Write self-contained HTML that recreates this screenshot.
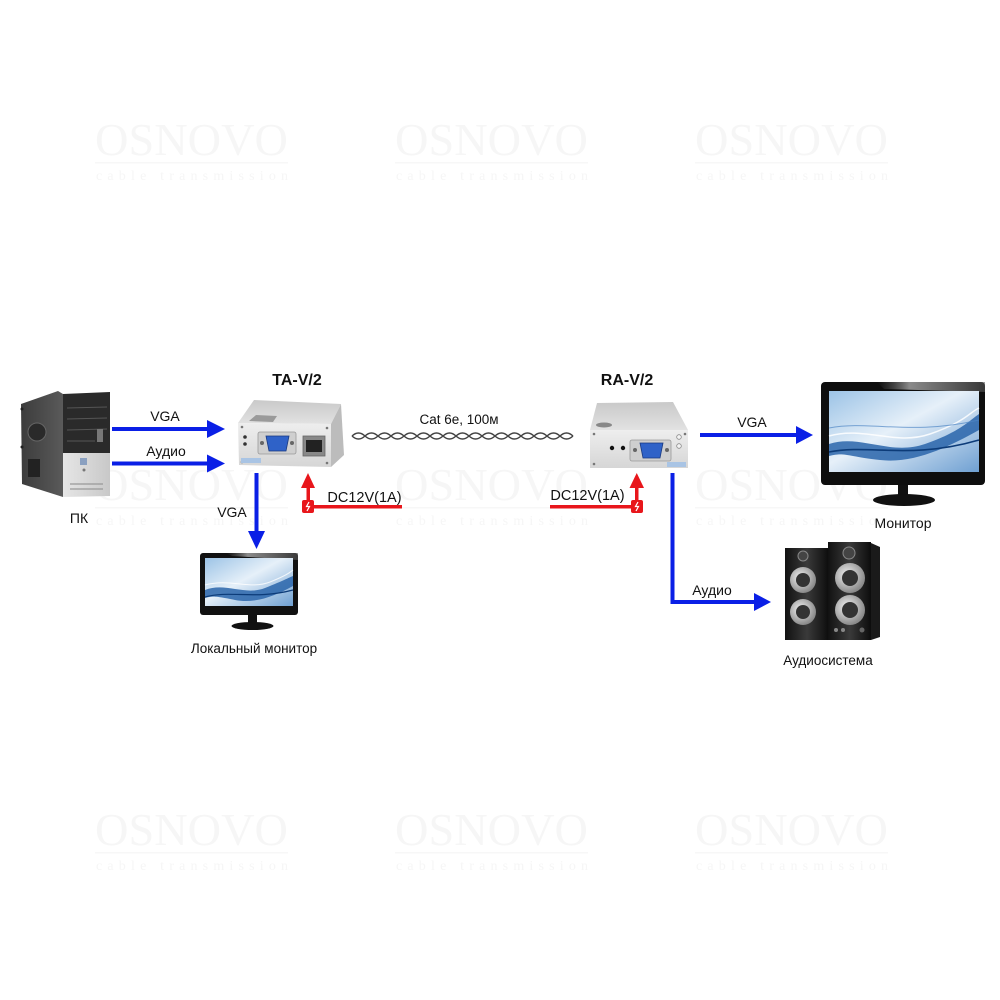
<!DOCTYPE html>
<html><head><meta charset="utf-8"><style>
html,body{margin:0;padding:0;background:#fff;}
svg{display:block;}
text{font-family:"Liberation Sans","DejaVu Sans",sans-serif;fill:#111;}
.wm{font-family:"Liberation Serif",serif;fill:#f6f6f6;}
</style></head><body>
<svg width="1000" height="1000" viewBox="0 0 1000 1000" xmlns="http://www.w3.org/2000/svg">
<defs>
<linearGradient id="scr" x1="0" y1="0" x2="1" y2="1">
<stop offset="0" stop-color="#9cc3e6"/><stop offset="0.45" stop-color="#e6f0f9"/><stop offset="1" stop-color="#6fa0d2"/>
</linearGradient>
<linearGradient id="topG" x1="0" y1="0" x2="0" y2="1">
<stop offset="0" stop-color="#c9c9c9"/><stop offset="1" stop-color="#e2e2e2"/>
</linearGradient>
<linearGradient id="frontG" x1="0" y1="0" x2="0" y2="1">
<stop offset="0" stop-color="#eeeeee"/><stop offset="1" stop-color="#d6d6d6"/>
</linearGradient>
<linearGradient id="spk" x1="0" y1="0" x2="1" y2="0">
<stop offset="0" stop-color="#111"/><stop offset="0.5" stop-color="#3a3a3a"/><stop offset="1" stop-color="#0c0c0c"/>
</linearGradient>
<radialGradient id="woof" cx="0.4" cy="0.4" r="0.6">
<stop offset="0" stop-color="#f2f2f2"/><stop offset="1" stop-color="#8a8a8a"/>
</radialGradient>
<linearGradient id="pcs" x1="0" y1="0" x2="1" y2="0">
<stop offset="0" stop-color="#3c3c3c"/><stop offset="1" stop-color="#5a5a5a"/>
</linearGradient>
<linearGradient id="pcf" x1="0" y1="0" x2="1" y2="0">
<stop offset="0" stop-color="#e6e6e6"/><stop offset="1" stop-color="#c8c8c8"/>
</linearGradient>
<linearGradient id="gloss" x1="0" y1="0" x2="1" y2="0">
<stop offset="0" stop-color="#888" stop-opacity="0"/><stop offset="0.3" stop-color="#ddd"/><stop offset="1" stop-color="#555"/>
</linearGradient>
</defs>

<!-- watermarks -->
<g>
<text class="wm" x="95" y="155" font-size="46" textLength="193" lengthAdjust="spacingAndGlyphs">OSNOVO</text>
<rect x="95" y="162" width="193" height="1.5" fill="#f7f7f7"/>
<text class="wm" x="96" y="180" font-size="14" textLength="192" lengthAdjust="spacing">cable transmission</text>
<text class="wm" x="395" y="155" font-size="46" textLength="193" lengthAdjust="spacingAndGlyphs">OSNOVO</text>
<rect x="395" y="162" width="193" height="1.5" fill="#f7f7f7"/>
<text class="wm" x="396" y="180" font-size="14" textLength="192" lengthAdjust="spacing">cable transmission</text>
<text class="wm" x="695" y="155" font-size="46" textLength="193" lengthAdjust="spacingAndGlyphs">OSNOVO</text>
<rect x="695" y="162" width="193" height="1.5" fill="#f7f7f7"/>
<text class="wm" x="696" y="180" font-size="14" textLength="192" lengthAdjust="spacing">cable transmission</text>

<text class="wm" x="95" y="500" font-size="46" textLength="193" lengthAdjust="spacingAndGlyphs">OSNOVO</text>
<rect x="95" y="507" width="193" height="1.5" fill="#f7f7f7"/>
<text class="wm" x="96" y="525" font-size="14" textLength="192" lengthAdjust="spacing">cable transmission</text>
<text class="wm" x="395" y="500" font-size="46" textLength="193" lengthAdjust="spacingAndGlyphs">OSNOVO</text>
<rect x="395" y="507" width="193" height="1.5" fill="#f7f7f7"/>
<text class="wm" x="396" y="525" font-size="14" textLength="192" lengthAdjust="spacing">cable transmission</text>
<text class="wm" x="695" y="500" font-size="46" textLength="193" lengthAdjust="spacingAndGlyphs">OSNOVO</text>
<rect x="695" y="507" width="193" height="1.5" fill="#f7f7f7"/>
<text class="wm" x="696" y="525" font-size="14" textLength="192" lengthAdjust="spacing">cable transmission</text>

<text class="wm" x="95" y="845" font-size="46" textLength="193" lengthAdjust="spacingAndGlyphs">OSNOVO</text>
<rect x="95" y="852" width="193" height="1.5" fill="#f7f7f7"/>
<text class="wm" x="96" y="870" font-size="14" textLength="192" lengthAdjust="spacing">cable transmission</text>
<text class="wm" x="395" y="845" font-size="46" textLength="193" lengthAdjust="spacingAndGlyphs">OSNOVO</text>
<rect x="395" y="852" width="193" height="1.5" fill="#f7f7f7"/>
<text class="wm" x="396" y="870" font-size="14" textLength="192" lengthAdjust="spacing">cable transmission</text>
<text class="wm" x="695" y="845" font-size="46" textLength="193" lengthAdjust="spacingAndGlyphs">OSNOVO</text>
<rect x="695" y="852" width="193" height="1.5" fill="#f7f7f7"/>
<text class="wm" x="696" y="870" font-size="14" textLength="192" lengthAdjust="spacing">cable transmission</text>
</g>

<!-- PC tower -->
<g>
<polygon points="21,404 58,391 63,394 63,497 22,484" fill="url(#pcs)"/>
<circle cx="37" cy="432" r="9" fill="#2a2a2a" stroke="#666" stroke-width="1"/>
<rect x="28" y="459" width="12" height="18" fill="#222"/>
<circle cx="22" cy="409" r="1.5" fill="#222"/>
<circle cx="22" cy="447" r="1.5" fill="#222"/>
<polygon points="63,394 110,392 110,453 63,453" fill="#2a2a2a"/>
<line x1="67" y1="408" x2="107" y2="407" stroke="#555" stroke-width="1"/>
<line x1="67" y1="419" x2="107" y2="418" stroke="#555" stroke-width="1"/>
<line x1="67" y1="430" x2="107" y2="429" stroke="#555" stroke-width="1"/>
<line x1="67" y1="441" x2="95" y2="441" stroke="#555" stroke-width="1"/>
<rect x="97" y="429" width="6" height="13" fill="#777"/>
<polygon points="63,453 110,453 110,496 63,497" fill="url(#pcf)"/>
<rect x="80" y="458" width="7" height="7" fill="#8aa0c0"/>
<circle cx="84" cy="470" r="1.5" fill="#777"/>
<line x1="70" y1="484" x2="103" y2="484" stroke="#999" stroke-width="1.2"/>
<line x1="70" y1="489" x2="103" y2="489" stroke="#999" stroke-width="1.2"/>
</g>
<text x="79" y="523" font-size="14" text-anchor="middle">ПК</text>

<!-- PC -> TA arrows -->
<g fill="#0a1fe6">
<rect x="112" y="427" width="98" height="4"/>
<polygon points="207,420 225,429 207,438"/>
<rect x="112" y="461.5" width="98" height="4"/>
<polygon points="207,454.5 225,463.5 207,472.5"/>
</g>
<text x="165" y="421" font-size="14" text-anchor="middle">VGA</text>
<text x="166" y="456" font-size="14" text-anchor="middle">Аудио</text>

<!-- TA device -->
<text x="297" y="385" font-size="16" font-weight="bold" text-anchor="middle">TA-V/2</text>
<g>
<polygon points="238,423 254,400 341,404 331,424" fill="url(#topG)"/>
<polygon points="238,423 331,424 331,467 239,465" fill="url(#frontG)"/>
<polygon points="331,424 341,404 344,455 331,467" fill="#bcbcbc"/>
<polygon points="249,421 256,415 277,416 273,422" fill="#9a9a9a"/>
<circle cx="242" cy="427" r="1.3" fill="#777"/>
<circle cx="327" cy="428" r="1.3" fill="#777"/>
<circle cx="242" cy="462" r="1.3" fill="#777"/>
<circle cx="327" cy="463" r="1.3" fill="#777"/>
<circle cx="245" cy="437" r="1.8" fill="#333"/>
<circle cx="245" cy="444" r="1.8" fill="#333"/>
<rect x="258" y="432" width="38" height="22" rx="2" fill="#cfcfcf" stroke="#999" stroke-width="0.8"/>
<polygon points="266,436 289,436 286,451 269,451" fill="#2f62c8" stroke="#1a3a80" stroke-width="0.8"/>
<circle cx="262" cy="443" r="2" fill="#666"/>
<circle cx="292" cy="443" r="2" fill="#666"/>
<rect x="303" y="436" width="22" height="20" fill="#888" stroke="#666" stroke-width="0.8"/>
<rect x="306" y="440" width="16" height="12" fill="#222"/>
<rect x="241" y="458" width="20" height="5" fill="#a9c4e4"/>
</g>

<!-- cable -->
<text x="459" y="424" font-size="13.5" text-anchor="middle">Cat 6e, 100м</text>
<path d="M352,436 q6.5,-6 13,0 t13,0 t13,0 t13,0 t13,0 t13,0 t13,0 t13,0 t13,0 t13,0 t13,0 t13,0 t13,0 t13,0 t13,0 t13,0 t13,0" fill="none" stroke="#444" stroke-width="1.4"/>
<path d="M352,436 q6.5,6 13,0 t13,0 t13,0 t13,0 t13,0 t13,0 t13,0 t13,0 t13,0 t13,0 t13,0 t13,0 t13,0 t13,0 t13,0 t13,0 t13,0" fill="none" stroke="#444" stroke-width="1.4"/>

<!-- TA VGA down -->
<g fill="#0a1fe6">
<rect x="254.5" y="473" width="4" height="61"/>
<polygon points="248,531 265,531 256.5,549"/>
</g>
<text x="232" y="517" font-size="14" text-anchor="middle">VGA</text>

<!-- TA power -->
<g fill="#e8161b">
<rect x="306.5" y="486" width="3.5" height="20"/>
<polygon points="301,488 308,473 315,488"/>
<rect x="308" y="505" width="94" height="3.5"/>
<rect x="302" y="500" width="12" height="13" rx="2"/>
</g>
<path d="M309,502 l-2.5,4.5 h3 l-2.5,4.5" fill="none" stroke="#fff" stroke-width="1.2"/>
<text x="364.5" y="502" font-size="14.5" text-anchor="middle">DC12V(1A)</text>

<!-- local monitor -->
<g>
<rect x="200" y="553" width="98" height="62" rx="3" fill="#111"/>
<polygon points="226,553 298,553 298,560 232,556" fill="url(#gloss)" opacity="0.6"/>
<rect x="205" y="558" width="88" height="48" fill="url(#scr)"/>
<path d="M205,590 C225,582 245,596 265,588 S288,578 293,576 L293,586 C275,596 255,604 235,600 S212,596 205,598 Z" fill="#2a65aa" opacity="0.85"/>
<path d="M205,585 C230,578 250,590 270,582 S290,572 293,570" fill="none" stroke="#fff" stroke-width="1" opacity="0.8"/>
<path d="M205,597 C230,590 255,600 293,590" fill="none" stroke="#0c3b78" stroke-width="1.2"/>
<rect x="248" y="615" width="9" height="9" fill="#111"/>
<ellipse cx="252.5" cy="626" rx="21" ry="4" fill="#111"/>
</g>
<text x="254" y="653" font-size="13.5" text-anchor="middle">Локальный монитор</text>

<!-- RA device -->
<text x="627" y="385" font-size="16" font-weight="bold" text-anchor="middle">RA-V/2</text>
<g>
<polygon points="590,430 597,403 673,402 688,430" fill="url(#topG)"/>
<polygon points="590,430 688,430 688,468 590,468" fill="url(#frontG)"/>
<ellipse cx="604" cy="425" rx="8" ry="2.5" fill="#888"/>
<circle cx="594" cy="434" r="1.3" fill="#777"/>
<circle cx="594" cy="464" r="1.3" fill="#777"/>
<circle cx="685" cy="434" r="1.3" fill="#777"/>
<circle cx="612" cy="448" r="2.2" fill="#111"/>
<circle cx="623" cy="448" r="2.2" fill="#111"/>
<rect x="630" y="440" width="41" height="21" rx="2" fill="#cfcfcf" stroke="#999" stroke-width="0.8"/>
<polygon points="640,443 663,443 660,458 643,458" fill="#2f62c8" stroke="#1a3a80" stroke-width="0.8"/>
<circle cx="635" cy="450" r="2" fill="#666"/>
<circle cx="667" cy="450" r="2" fill="#666"/>
<circle cx="679" cy="437" r="2.3" fill="#f4f4f4" stroke="#888" stroke-width="0.8"/>
<circle cx="679" cy="446" r="2.3" fill="#f4f4f4" stroke="#888" stroke-width="0.8"/>
<rect x="667" y="462" width="19" height="5" fill="#a9c4e4"/>
</g>

<!-- RA power -->
<g fill="#e8161b">
<rect x="550" y="505" width="87" height="3.5"/>
<rect x="635" y="486" width="3.5" height="20"/>
<polygon points="629.5,488 636.75,473 644,488"/>
<rect x="631" y="500" width="12" height="13" rx="2"/>
</g>
<path d="M638,502 l-2.5,4.5 h3 l-2.5,4.5" fill="none" stroke="#fff" stroke-width="1.2"/>
<text x="587.5" y="500" font-size="14.5" text-anchor="middle">DC12V(1A)</text>

<!-- RA -> monitor -->
<g fill="#0a1fe6">
<rect x="700" y="433" width="98" height="4"/>
<polygon points="796,426 813,435 796,444"/>
</g>
<text x="752" y="427" font-size="14" text-anchor="middle">VGA</text>

<!-- big monitor -->
<g>
<rect x="821" y="382" width="164" height="103" rx="4" fill="#0e0e0e"/>
<polygon points="877,382 985,382 985,392 884,389" fill="url(#gloss)" opacity="0.6"/>
<rect x="829" y="391" width="150" height="81" fill="url(#scr)"/>
<path d="M829,444 C860,434 890,456 925,444 S970,420 979,414 L979,430 C950,446 915,464 880,460 S845,452 829,456 Z" fill="#2a65aa" opacity="0.85"/>
<path d="M829,436 C865,426 895,446 930,434 S970,412 979,408" fill="none" stroke="#fff" stroke-width="1.5" opacity="0.85"/>
<path d="M829,452 C870,444 910,460 979,440" fill="none" stroke="#0c3b78" stroke-width="1.6"/>
<path d="M829,428 C870,420 910,436 979,420" fill="none" stroke="#4f86c4" stroke-width="1" opacity="0.7"/>
<rect x="898" y="485" width="10" height="12" fill="#111"/>
<ellipse cx="904" cy="500" rx="31" ry="6" fill="#111"/>
</g>
<text x="903" y="528" font-size="14" text-anchor="middle">Монитор</text>

<!-- RA audio down -->
<g fill="#0a1fe6">
<rect x="670.5" y="473" width="4" height="131"/>
<rect x="670.5" y="600" width="86" height="4"/>
<polygon points="754,593 771,602 754,611"/>
</g>
<text x="712" y="595" font-size="14" text-anchor="middle">Аудио</text>

<!-- speakers -->
<g>
<rect x="785" y="548" width="44" height="92" fill="url(#spk)"/>
<rect x="828" y="542" width="43" height="98" fill="url(#spk)"/>
<polygon points="871,543 880,547 880,637 871,640" fill="#1a1a1a"/>
<circle cx="803" cy="556" r="5" fill="#444" stroke="#888" stroke-width="1"/>
<circle cx="803" cy="580" r="13" fill="url(#woof)"/>
<circle cx="803" cy="580" r="7" fill="#333"/>
<circle cx="803" cy="612" r="13" fill="url(#woof)"/>
<circle cx="803" cy="612" r="7" fill="#333"/>
<circle cx="849" cy="553" r="6" fill="#444" stroke="#888" stroke-width="1"/>
<circle cx="850" cy="578" r="15" fill="url(#woof)"/>
<circle cx="850" cy="578" r="8" fill="#333"/>
<circle cx="850" cy="610" r="15" fill="url(#woof)"/>
<circle cx="850" cy="610" r="8" fill="#333"/>
<circle cx="836" cy="630" r="2" fill="#888"/>
<circle cx="843" cy="630" r="2" fill="#888"/>
<circle cx="862" cy="630" r="2.5" fill="#666"/>
</g>
<text x="828" y="665" font-size="13.5" text-anchor="middle">Аудиосистема</text>
</svg>
</body></html>
